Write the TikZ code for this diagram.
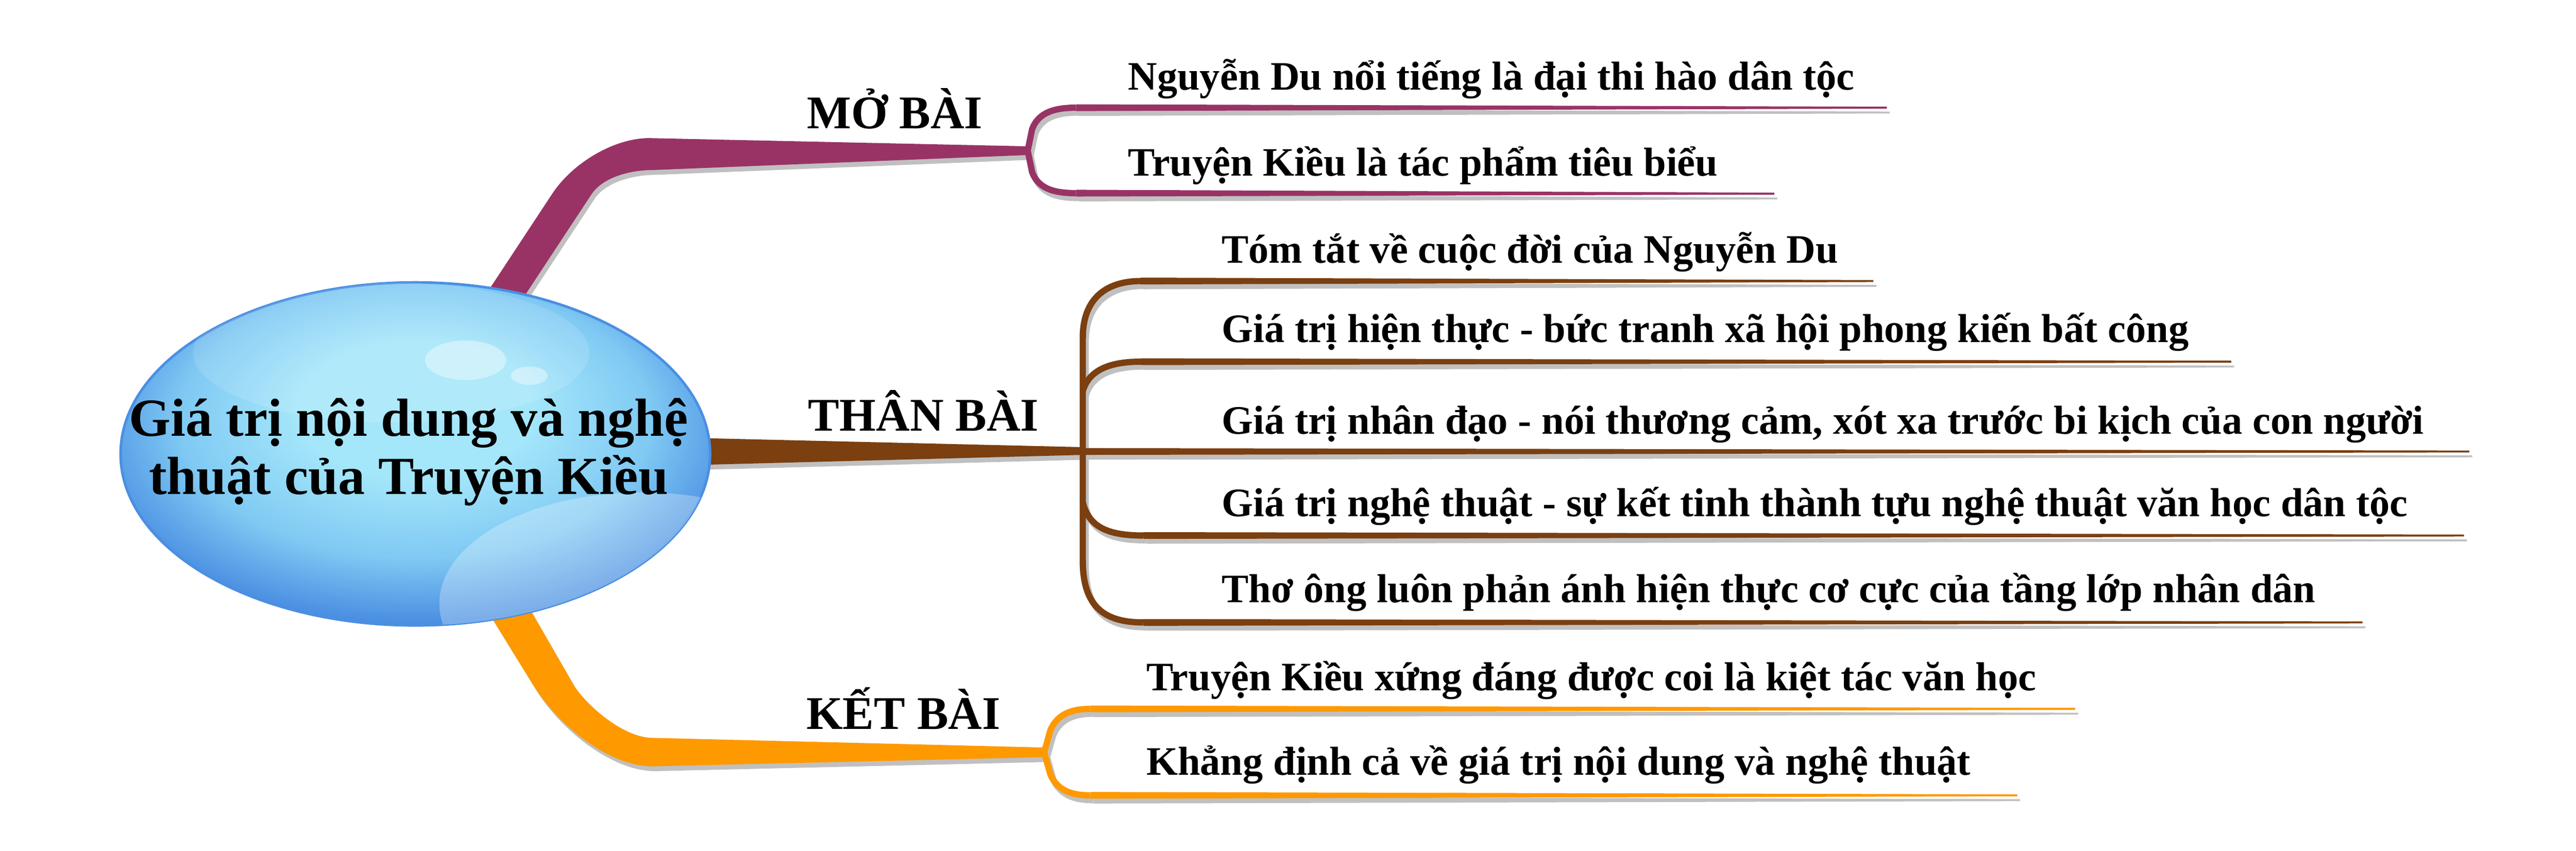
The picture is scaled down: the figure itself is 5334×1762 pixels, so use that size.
\documentclass[tikz,border=0pt]{standalone}
\usepackage{fontspec}
\setmainfont{Liberation Serif}
\usetikzlibrary{shapes.geometric,calc}

\definecolor{mobai}{HTML}{993366}
\definecolor{thanbai}{HTML}{7B3F10}
\definecolor{ketbai}{HTML}{FF9900}
\definecolor{shadowgray}{HTML}{C0C0C0}
\definecolor{bubbleout}{HTML}{4A8FE2}
\definecolor{bubblemid}{HTML}{7FC9F3}
\definecolor{bubblein}{HTML}{A4E6FA}

\pgfdeclareradialshading{bubbleshade}{\pgfpoint{0bp}{8bp}}{%
  color(0bp)=(bubblein); color(10bp)=(bubblein); color(20bp)=(bubblemid);
  color(28bp)=(bubbleout); color(50bp)=(bubbleout)}

% branches of the map, drawn once as shadow and once in colour
\newcommand{\mapbranches}[3]{%
  % Mo bai
  \fill[#1] (973,660) -- (1143,402) .. controls (1187,335) and (1274,286) .. (1344,286)
    -- ($(mo)+(0,-9)$) -- ($(mo)+(0,9)$) -- (1354,352)
    .. controls (1300,352) and (1247,369) .. (1225,402) -- (1055,660) -- cycle;
  \draw[#1,brk] (m1-s) .. controls (2185,223) and (2150,232) .. (2137,268) -- (mo)
    -- (2137,356) .. controls (2150,392) and (2185,400) .. (m2-s);
  % Than bai
  \fill[#2] (1400,906) -- ($(than)+(0,-8)$) -- ($(than)+(0,8)$) -- (1400,964) -- cycle;
  \draw[#2,brk] (t1-s) .. controls (2300,582) and (2242,610) .. (2242,700) -- (2242,1160)
    .. controls (2242,1260) and (2290,1289) .. (t5-s);
  \draw[#2,brk] (2242,810) .. controls (2255,765) and (2300,749) .. (t2-s);
  \draw[#2,brk] (2242,1040) .. controls (2255,1095) and (2300,1109) .. (t4-s);
  % Ket bai
  \fill[#3] (994,1240) -- (1103,1417) .. controls (1155,1502) and (1261,1587) .. (1351,1587)
    -- ($(ket)+(0,10)$) -- ($(ket)+(0,-10)$) -- (1351,1528)
    .. controls (1291,1528) and (1213,1460) .. (1187,1417) -- (1085,1240) -- cycle;
  \draw[#3,brk] (k1-s) .. controls (2220,1468) and (2190,1478) .. (2175,1512) -- (ket)
    -- (2175,1604) .. controls (2190,1638) and (2220,1647) .. (k2-s);
  % underlines
  \foreach \n/\c in {m1/#1,m2/#1,t1/#2,t2/#2,t3/#2,t4/#2,t5/#2,k1/#3,k2/#3}
    \fill[\c] ($(\n-s)+(0,-7)$) -- ($(\n-e)+(0,-2)$) -- ($(\n-e)+(0,2)$) -- ($(\n-s)+(0,7)$) -- cycle;
}

\begin{document}
\begin{tikzpicture}[x=0.01cm,y=-0.01cm,
    bubble/.style={ellipse, minimum width=12.2cm, minimum height=7.1cm,
      shading=bubbleshade, draw=bubbleout, line width=1.5pt},
    titletext/.style={align=center, inner sep=0pt, font=\fontsize{31.6}{34.4}\selectfont\bfseries},
    headtext/.style={anchor=base west, inner sep=0pt, font=\fontsize{27.6}{30}\selectfont\bfseries},
    leaftext/.style={anchor=base west, inner sep=0pt, font=\fontsize{23.8}{28}\selectfont\bfseries},
    brk/.style={line width=0.13cm, line join=round}]

  \useasboundingbox[fill=white] (0,0) rectangle (5334,1762);

  %Points%
  \coordinate (mo) at (2128,312);
  \coordinate (than) at (2242,934);
  \coordinate (ket) at (2162,1558);
  \coordinate (m1-s) at (2228,223);  \coordinate (m1-e) at (3907,223);
  \coordinate (m2-s) at (2228,400);  \coordinate (m2-e) at (3674,401);
  \coordinate (t1-s) at (2362,582);  \coordinate (t1-e) at (3879,582);
  \coordinate (t2-s) at (2362,749);  \coordinate (t2-e) at (4620,749);
  \coordinate (t3-s) at (2242,935);  \coordinate (t3-e) at (5113,935);
  \coordinate (t4-s) at (2368,1109); \coordinate (t4-e) at (5102,1109);
  \coordinate (t5-s) at (2368,1289); \coordinate (t5-e) at (4892,1289);
  \coordinate (k1-s) at (2258,1468); \coordinate (k1-e) at (4297,1468);
  \coordinate (k2-s) at (2258,1647); \coordinate (k2-e) at (4177,1647);

  %Branches%
  \begin{scope}[transform canvas={shift={(6,10)}}]
    \mapbranches{shadowgray}{shadowgray}{shadowgray}
  \end{scope}
  \mapbranches{mobai}{thanbai}{ketbai}

  %Bubble%
  \node[bubble] (root) at (860,940) {};
  \begin{scope}
    \clip (root.center) ellipse [x radius=6.1cm, y radius=3.55cm];
    \fill[white, opacity=0.13] (810,730) ellipse [x radius=4.1cm, y radius=1.45cm];
    \fill[white, opacity=0.28] (1330,1250) ellipse [x radius=4.2cm, y radius=2.3cm];
  \end{scope}
  \fill[white, opacity=0.4] (964,746) ellipse [x radius=0.84cm, y radius=0.41cm];
  \fill[white, opacity=0.4] (1096,778) ellipse [x radius=0.38cm, y radius=0.19cm];
  \node[titletext] (title) at ($(root)+(-14,-4)$) {Giá trị nội dung và nghệ\\thuật của Truyện Kiều};

  %Labels%
  \node[headtext] (molabel) at (1670,266) {MỞ BÀI};
  \node[headtext] (thanlabel) at (1673,892) {THÂN BÀI};
  \node[headtext] (ketlabel) at (1669,1510) {KẾT BÀI};

  \node[leaftext] (m1) at (2335,186) {Nguyễn Du nổi tiếng là đại thi hào dân tộc};
  \node[leaftext] (m2) at (2335,364) {Truyện Kiều là tác phẩm tiêu biểu};
  \node[leaftext] (t1) at (2529,545) {Tóm tắt về cuộc đời của Nguyễn Du};
  \node[leaftext] (t2) at (2529,709) {Giá trị hiện thực - bức tranh xã hội phong kiến bất công};
  \node[leaftext] (t3) at (2529,899) {Giá trị nhân đạo - nói thương cảm, xót xa trước bi kịch của con người};
  \node[leaftext] (t4) at (2529,1069) {Giá trị nghệ thuật - sự kết tinh thành tựu nghệ thuật văn học dân tộc};
  \node[leaftext] (t5) at (2529,1248) {Thơ ông luôn phản ánh hiện thực cơ cực của tầng lớp nhân dân};
  \node[leaftext] (k1) at (2373,1430) {Truyện Kiều xứng đáng được coi là kiệt tác văn học};
  \node[leaftext] (k2) at (2373,1605) {Khẳng định cả về giá trị nội dung và nghệ thuật};
\end{tikzpicture}
\end{document}
